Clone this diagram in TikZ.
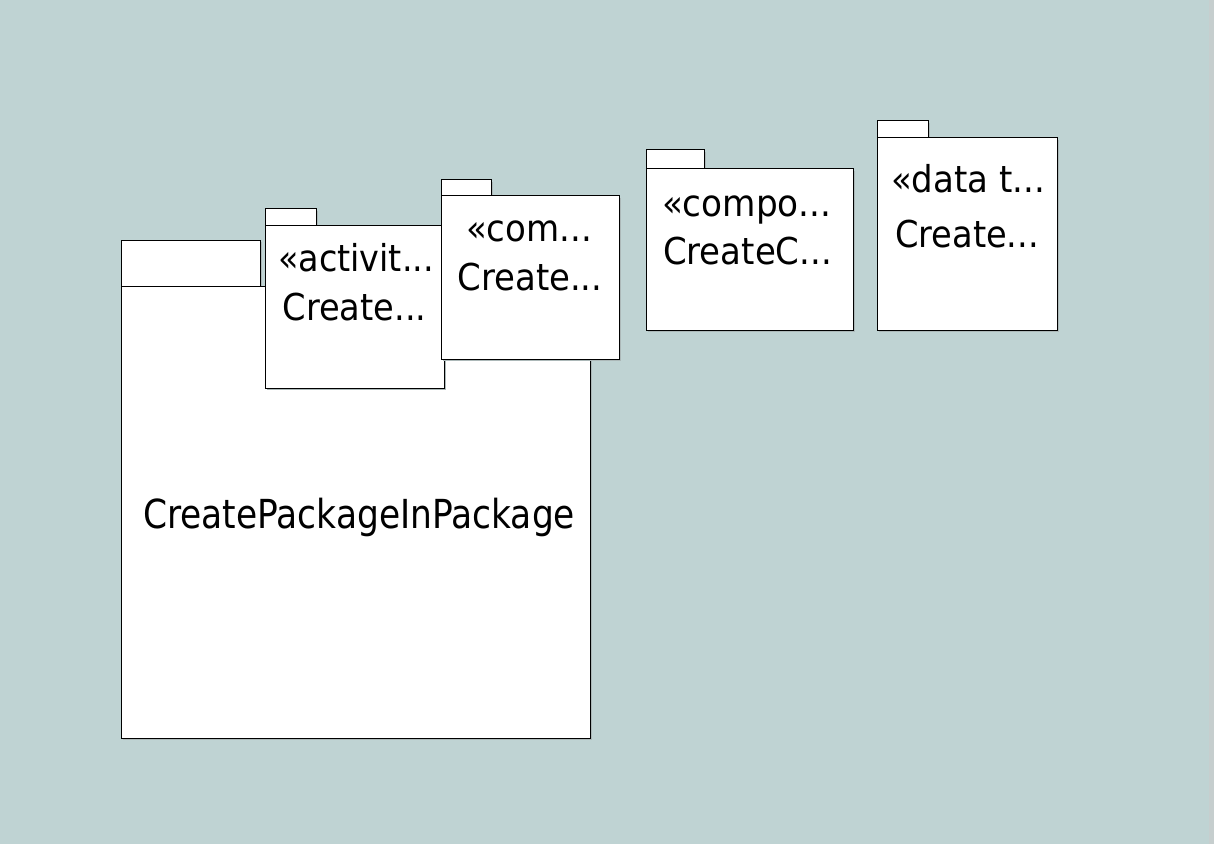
\documentclass[tikz,border=0pt]{standalone}
\usepackage{fontspec}
\setmainfont{DejaVu Sans}
\definecolor{bgc}{RGB}{191,211,211}
\definecolor{shd}{RGB}{172,184,184}
\definecolor{edgestrip}{RGB}{198,206,206}
\newcommand\fitt[2]{\resizebox{#1pt}{\height}{#2}}
\newcommand\pkgbox[5]{%
  \node[pkgpart, minimum width={(#4)*1pt-(#2)*1pt}, minimum height={(#5)*1pt-(#3)*1pt}] (#1) at (#2,#3) {};}
\tikzset{
  pkgpart/.style={draw=black, fill=white, line width=1pt, inner sep=0pt, outer sep=0pt,
    anchor=north west,
    preaction={fill=shd, transform canvas={shift={(2pt,-2pt)}}}},
  lbl/.style={anchor=base west, inner sep=0pt, outer sep=0pt, text=black},
  smallfont/.style={font=\fontsize{37}{44}\selectfont},
  bigfont/.style={font=\fontsize{40}{48}\selectfont}
}
\begin{document}
\begin{tikzpicture}[x=1pt,y=-1pt]
\useasboundingbox (0,0) rectangle (1231,861);
\fill[white] (0,0) rectangle (1231,861);
\fill[bgc] (0,0) rectangle (1214,844);
\fill[edgestrip] (1209,0) rectangle (1214,844);
% big package
\pkgbox{bigtab}{121}{240}{260}{286}
\pkgbox{bigbody}{121}{286}{590}{738}
\node[lbl, bigfont] (bigtxt) at (143,528) {\fitt{432}{CreatePackageInPackage}};
% activity package
\pkgbox{acttab}{265}{209}{316}{225}
\pkgbox{actbody}{265}{225}{444}{388}
\node[lbl, smallfont] (actst) at (278,271.5) {\fitt{156}{«activit...}};
\node[lbl, smallfont] (actname) at (282.5,320.5) {\fitt{144}{Create...}};
% com package
\pkgbox{comtab}{441}{180}{491}{196}
\pkgbox{combody}{441}{196}{619}{359}
\node[lbl, smallfont] (comst) at (466,241.5) {\fitt{126}{«com...}};
\node[lbl, smallfont] (comname) at (457.5,290.5) {\fitt{145}{Create...}};
% compo package
\pkgbox{cpotab}{646}{150}{704}{169}
\pkgbox{cpobody}{646}{169}{853}{330}
\node[lbl, smallfont] (cpost) at (662,216.5) {\fitt{169}{«compo...}};
\node[lbl, smallfont] (cponame) at (663,264) {\fitt{169}{CreateC...}};
% data type package
\pkgbox{dattab}{877}{121}{928}{138}
\pkgbox{datbody}{877}{138}{1057}{330}
\node[lbl, smallfont] (datst) at (891,192.5) {\fitt{154}{«data t...}};
\node[lbl, smallfont] (datname) at (895,247.5) {\fitt{144}{Create...}};
\end{tikzpicture}
\end{document}
